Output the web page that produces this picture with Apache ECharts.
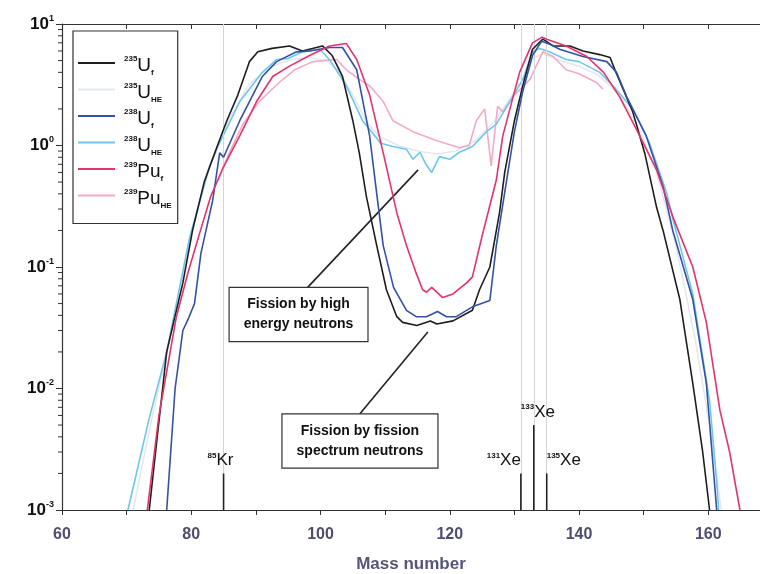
<!DOCTYPE html>
<html><head><meta charset="utf-8">
<script src="https://cdn.jsdelivr.net/npm/echarts@6/dist/echarts.min.js"></script>
<style>html,body{margin:0;padding:0;background:#fff}#c{width:760px;height:574px}</style>
</head><body><div id="c"></div>
<script>
// ---- data: [mass number, yield %] ----
const u235f = [[73.5,0.001],[74.8,0.0043],[76.2,0.02],[78.7,0.074],[80.2,0.2],[82,0.5],[83.9,0.95],[85.5,1.6],[87.2,2.6],[89,4.9],[90.3,5.9],[92.5,6.3],[95.2,6.6],[97.2,6.0],[100.3,6.6],[101.8,5.5],[103.4,3.7],[105,1.6],[106,0.87],[107.1,0.38],[108.7,0.15],[110.2,0.065],[111.8,0.039],[112.7,0.035],[114.9,0.033],[117,0.036],[118,0.034],[120.5,0.036],[123.5,0.044],[124.6,0.065],[126.2,0.1],[127.7,0.28],[128.5,0.6],[130,1.6],[131.3,3.1],[132.8,6.2],[134.4,7.5],[136,6.6],[138.6,6.6],[140.6,6.0],[143.2,5.6],[144.8,5.3],[145.8,3.9],[148.3,1.9],[150.2,0.85],[152,0.31],[153,0.2],[155.6,0.054],[157.6,0.011],[159.1,0.0031],[160.2,0.001]];
const u235he = [[71,0.001],[74,0.006],[77,0.03],[80,0.2],[83,0.7],[86,1.7],[89,3.2],[92,4.4],[95,5.0],[98,5.3],[101,5.0],[103,4.0],[105,2.6],[107,1.6],[109,1.2],[112,1.0],[115,0.9],[118,0.85],[121,0.9],[124,1.1],[127,1.6],[129,2.3],[131,3.3],[133,5.3],[134.5,5.7],[137,5.0],[140,4.5],[143,3.8],[146,2.7],[149,1.5],[152,0.6],[155,0.15],[158,0.025],[160.5,0.004],[162,0.001]];
const u238f = [[76.2,0.001],[77.5,0.01],[78.7,0.03],[79.5,0.037],[80.5,0.05],[81.5,0.13],[83.3,0.35],[84.4,0.87],[85,0.8],[87.5,1.6],[91,3.7],[93.2,4.9],[96.3,5.9],[98.3,6.0],[101.4,6.4],[103.4,6.4],[105.6,4.2],[107.6,1.2],[108.7,0.4],[109.7,0.15],[111.3,0.068],[113.3,0.044],[114.8,0.039],[116.4,0.039],[118.1,0.043],[119.5,0.039],[121,0.039],[123.5,0.047],[126.2,0.053],[127.2,0.15],[128.8,0.52],[130,1.3],[131.3,2.8],[132.8,5.5],[134.2,7.2],[135.5,6.8],[137,6.2],[140.6,5.4],[144.3,4.9],[145.8,4.0],[147.4,2.5],[150.4,1.2],[153,0.46],[154.5,0.2],[157.6,0.054],[159.7,0.011],[161.3,0.001]];
const u238he = [[70.2,0.001],[73.5,0.0057],[76.2,0.02],[79.7,0.17],[82.8,0.67],[84,0.95],[87.5,2.3],[91,4.0],[93.2,5.1],[95,5.2],[97.2,5.9],[99.9,6.2],[101.5,5.0],[104,3.1],[106.5,1.6],[108.7,1.15],[109.2,1.05],[111.2,0.98],[113.3,0.93],[114.3,0.77],[115.4,0.88],[116.3,0.7],[117.2,0.6],[118.4,0.81],[120,0.77],[121.5,0.88],[123.5,0.98],[125.7,1.3],[127.2,1.5],[129.3,2.3],[131.3,3.5],[132.8,5.9],[133.9,6.3],[135.4,5.9],[138,5.1],[140,4.9],[143.2,4.0],[145.5,3.0],[148.3,2.0],[150.9,1.05],[153.6,0.4],[154.5,0.25],[157.6,0.06],[160.2,0.0079],[161.3,0.0017],[161.6,0.001]];
const pu239f = [[73.2,0.001],[75,0.006],[77.7,0.039],[79.5,0.09],[81.3,0.19],[83,0.38],[84.9,0.65],[87.5,1.2],[90.1,2.3],[92.6,3.7],[95.2,4.5],[98.3,5.5],[101.4,6.6],[104,6.9],[105.6,5.1],[107.6,2.6],[109.7,0.87],[111.8,0.28],[113.3,0.15],[114.8,0.089],[115.8,0.065],[116.4,0.062],[117.2,0.068],[118.9,0.056],[120.5,0.06],[122.6,0.074],[123.5,0.083],[125,0.18],[127.2,0.52],[128.2,1.2],[130.8,4.0],[132.8,7.0],[134.3,7.8],[135,7.5],[138,6.6],[141.2,5.4],[143.8,4.0],[146.3,2.5],[148.9,1.35],[152,0.63],[154.5,0.26],[157.6,0.1],[159.7,0.035],[161.8,0.0066],[163.3,0.003],[164.9,0.001]];
const pu239he = [[84,0.5],[86,0.9],[88,1.5],[90.5,2.3],[93.6,3.3],[96,4.2],[98.8,4.9],[102.5,5.1],[104,4.2],[106,3.5],[107.6,3.1],[109.7,2.3],[111.2,1.6],[114.3,1.3],[117.9,1.1],[121.5,0.96],[123,1.0],[124.1,1.6],[125.4,2.0],[126.4,0.68],[127.4,2.1],[128.2,1.9],[130,2.6],[132.4,3.5],[134.4,5.9],[136,5.4],[138,4.2],[140,3.9],[142.7,3.3],[143.7,2.9]];

// marker isotopes
const markerMass = [85, 131, 133, 135];
const markerYield = [0.002, 0.002, 0.005, 0.002];
const markerNumber = ['85', '131', '133', '135'];
const markerElement = ['Kr', 'Xe', 'Xe', 'Xe'];

// axis ticks
const yMinorTicks = [];
[0.001, 0.01, 0.1, 1].forEach(d => [2,3,4,5,6,7,8,9].forEach(k => yMinorTicks.push(+(d*k).toPrecision(3))));

// annotations (data coordinates)
const boxes = [
  {text: 'Fission by high\nenergy neutrons', at: [96.6, 0.0406]},
  {text: 'Fission by fission\nspectrum neutrons', at: [106.1, 0.0037]}
];
const arrows = [
  [[97.9, 0.067], [115.1, 0.63]],
  [[106.1, 0.0062], [116.6, 0.0292]]
];

// ---- styles ----
const FONT = "'Liberation Sans',Arial,sans-serif";
const markerAlign = [
  {align: 'center', dx: -3}, {align: 'right', dx: 0}, {align: 'left', dx: -13}, {align: 'left', dx: 0}
];

const seriesDefs = [
  {name: '235U_HE', data: u235he, color: '#e3e8ef', z: 2},
  {name: '239Pu_HE', data: pu239he, color: '#f4aac6', z: 3},
  {name: '238U_HE', data: u238he, color: '#70c6ea', z: 4},
  {name: '235U_f', data: u235f, color: '#1e1e1e', z: 5},
  {name: '238U_f', data: u238f, color: '#3452a4', z: 6},
  {name: '239Pu_f', data: pu239f, color: '#e2336b', z: 7}
];

const chart = echarts.init(document.getElementById('c'));

const series = seriesDefs.map(s => ({
  type: 'line', name: s.name, data: s.data, symbol: 'none', smooth: false, z: s.z,
  lineStyle: {color: s.color, width: 1.6}, itemStyle: {color: s.color}, silent: true
}));

// faint vertical reference lines
series.push({
  type: 'line', name: 'helper', data: [], silent: true, z: 1,
  markLine: {
    silent: true, symbol: 'none', label: {show: false},
    lineStyle: {color: '#d4d4d4', width: 1, type: 'solid'},
    data: markerMass.map(m => ({xAxis: m}))
  }
});
// annotation arrows and boxes
series.push({
  type: 'line', name: 'arrows', data: [], silent: true, z: 20,
  markLine: {
    silent: true, symbol: ['none', 'arrow'], symbolSize: [0, 8], label: {show: false},
    lineStyle: {color: '#222', width: 1.6, type: 'solid'},
    data: arrows.map(a => [{coord: a[0]}, {coord: a[1]}])
  },
  markPoint: {
    silent: true, symbol: 'rect', symbolSize: 0,
    data: boxes.map(b => ({
      coord: b.at,
      label: {
        show: true, position: 'inside', formatter: b.text,
        color: '#111', fontFamily: FONT, fontSize: 14, fontWeight: 'bold', lineHeight: 20,
        backgroundColor: '#fff', borderColor: '#333', borderWidth: 1.2, padding: [7, 14, 6, 14]
      }
    }))
  }
});

// isotope marker bars with labels
series.push({
  type: 'custom', name: 'markers', silent: true, z: 10,
  data: markerMass.map((m, i) => [m, markerYield[i], i]),
  renderItem: (params, api) => {
    const i = api.value(2);
    const top = api.coord([api.value(0), api.value(1)]);
    const bot = api.coord([api.value(0), 0.001]);
    const st = markerAlign[i];
    return {
      type: 'group', children: [
        {type: 'line', shape: {x1: top[0], y1: top[1], x2: bot[0], y2: bot[1]}, style: {stroke: '#222', lineWidth: 1.6}},
        {type: 'text', x: top[0] + st.dx, y: top[1] - 4,
          style: {text: '{s|' + markerNumber[i] + '}{e|' + markerElement[i] + '}', align: st.align, verticalAlign: 'bottom',
            rich: {s: {fontSize: 8, fontFamily: FONT, fontWeight: 'bold', fill: '#111', verticalAlign: 'top', lineHeight: 18},
                   e: {fontSize: 17, fontFamily: FONT, fill: '#111', lineHeight: 18}}}}
      ]
    };
  }
});

// minor log ticks on the y axis
series.push({
  type: 'custom', name: 'yminor', silent: true, z: 10,
  data: yMinorTicks.map(v => [60, v]),
  renderItem: (params, api) => {
    const p = api.coord([api.value(0), api.value(1)]);
    return {type: 'line', shape: {x1: p[0] - 4, y1: p[1], x2: p[0], y2: p[1]}, style: {stroke: '#333', lineWidth: 1}};
  }
});

chart.setOption({
  animation: false,
  backgroundColor: '#fff',
  grid: {left: 62, right: 0, top: 24, bottom: 64, containLabel: false, outerBoundsMode: 'none'},
  legend: {
    data: ['235U_f', '235U_HE', '238U_f', '238U_HE', '239Pu_f', '239Pu_HE'],
    orient: 'vertical', left: 73, top: 31,
    icon: 'rect', itemWidth: 37, itemHeight: 2, itemGap: 4.5,
    padding: [24, 6, 14, 5],
    borderColor: '#333', borderWidth: 1.2, backgroundColor: '#fff',
    selectedMode: false,
    formatter: name => {
      const m = name.match(/^(\d+)([A-Za-z]+?)_(\w+)$/);
      return '{sup|' + m[1] + '}{el|' + m[2] + '}{sub|' + m[3] + '}';
    },
    textStyle: {
      padding: [6, 0, 0, 4],
      rich: {
        sup: {fontSize: 8, fontFamily: FONT, fontWeight: 'bold', color: '#111', verticalAlign: 'top', lineHeight: 22},
        el: {fontSize: 19, fontFamily: FONT, color: '#111', lineHeight: 22},
        sub: {fontSize: 8, fontFamily: FONT, fontWeight: 'bold', color: '#111', verticalAlign: 'bottom', lineHeight: 22}
      }
    }
  },
  xAxis: [{
    type: 'value', min: 60, max: 168, interval: 10,
    name: 'Mass number', nameLocation: 'middle', nameGap: 46,
    nameTextStyle: {fontFamily: FONT, fontSize: 17, fontWeight: 'bold', color: '#55557a'},
    axisLine: {show: true, onZero: false, lineStyle: {color: '#333', width: 1.2}},
    axisTick: {show: true, length: 5, lineStyle: {color: '#333'}},
    axisLabel: {margin: 17, fontFamily: FONT, fontSize: 16, fontWeight: 'bold', color: '#4d4d6e',
      formatter: v => (v % 20 === 0 && v <= 160) ? String(v) : ''},
    splitLine: {show: false}
  }, {
    type: 'value', min: 60, max: 168, interval: 10, position: 'top',
    axisLine: {show: true, onZero: false, lineStyle: {color: '#333', width: 1.2}},
    axisTick: {show: true, inside: true, length: 5, lineStyle: {color: '#333'}},
    axisLabel: {show: false}, splitLine: {show: false}
  }],
  yAxis: {
    type: 'log', logBase: 10, min: 0.001, max: 10,
    axisLine: {show: true, onZero: false, lineStyle: {color: '#333', width: 1.2}},
    axisTick: {show: true, length: 6, lineStyle: {color: '#333'}},
    axisLabel: {margin: 8, formatter: v => '{b|10}{s|' + Math.round(Math.log10(v)) + '}',
      rich: {
        b: {fontSize: 17, fontFamily: FONT, fontWeight: 'bold', color: '#111', lineHeight: 20},
        s: {fontSize: 9, fontFamily: FONT, fontWeight: 'bold', color: '#111', verticalAlign: 'top', lineHeight: 20}
      }},
    splitLine: {show: false}
  },
  series: series
});
</script></body></html>
